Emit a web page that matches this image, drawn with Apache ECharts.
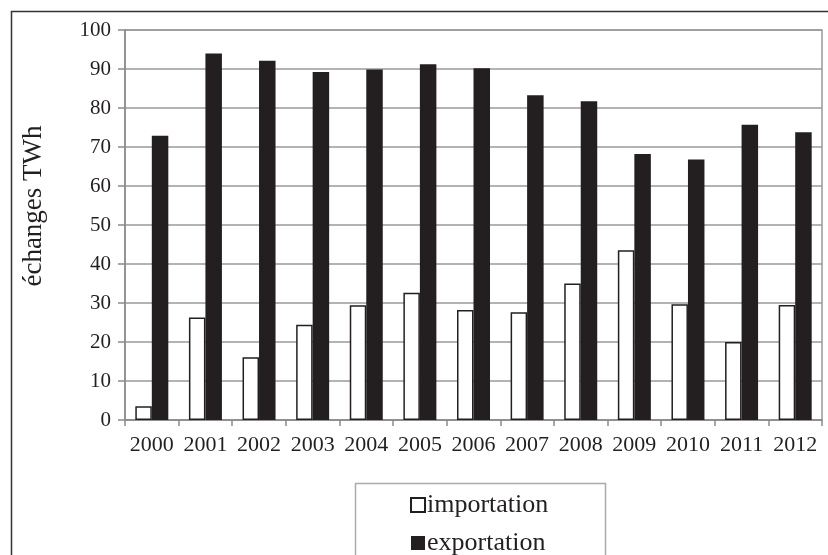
<!DOCTYPE html>
<html>
<head>
<meta charset="utf-8">
<script src="https://cdn.jsdelivr.net/npm/echarts@6/dist/echarts.min.js"></script>
<style>
html,body{margin:0;padding:0;background:#fff;}
#c{width:828px;height:555px;}
</style>
</head>
<body>
<div id="c"></div>
<script>
var categories = ['2000','2001','2002','2003','2004','2005','2006','2007','2008','2009','2010','2011','2012'];
var importation = [3.5, 26.3, 16.1, 24.4, 29.4, 32.6, 28.2, 27.6, 35.0, 43.5, 29.7, 20.0, 29.5];
var exportation = [72.9, 94.0, 92.1, 89.2, 89.9, 91.2, 90.2, 83.3, 81.7, 68.2, 66.8, 75.7, 73.8];
var yTicks = [0, 100, 10];
var yTitle = 'échanges TWh';

var font = 'Liberation Serif, Times New Roman, serif';
var dark = '#231f20';
var chart = echarts.init(document.getElementById('c'));
chart.setOption({
  backgroundColor: '#ffffff',
  animation: false,
  grid: {left: 125, right: 6, top: 30, bottom: 135, containLabel: false, outerBoundsMode: 'none',
         show: true, borderColor: '#9a9a9a', borderWidth: 1.5, backgroundColor: 'transparent'},
  xAxis: {
    type: 'category', data: categories,
    axisLine: {lineStyle: {color: '#8a8a8a', width: 1.5}},
    axisTick: {show: true, length: 6, lineStyle: {color: '#8a8a8a', width: 1.5}},
    axisLabel: {interval: 0, color: dark, fontFamily: font, fontSize: 22, margin: 14}
  },
  yAxis: {
    type: 'value', min: yTicks[0], max: yTicks[1], interval: yTicks[2],
    axisLine: {show: true, lineStyle: {color: '#8a8a8a', width: 1.5}},
    axisTick: {show: true, length: 7, lineStyle: {color: '#8a8a8a', width: 1.5}},
    axisLabel: {color: dark, fontFamily: font, fontSize: 21, margin: 14},
    splitLine: {lineStyle: {color: '#9a9a9a', width: 1.5}}
  },
  legend: {
    orient: 'vertical', left: 405, top: 487, height: 100, itemWidth: 14, itemHeight: 14, itemGap: 12,
    icon: 'rect',
    textStyle: {color: dark, fontFamily: font, fontSize: 26, padding: [0, 0, 0, -3]},
    data: ['importation', 'exportation']
  },
  graphic: [
    {type: 'rect', left: 9, top: 9, shape: {x: 0, y: 0, width: 840, height: 570}, style: {fill: 'none', stroke: '#333', lineWidth: 1.5}, silent: true},
    {type: 'rect', left: 353, top: 481, shape: {x: 0, y: 0, width: 250, height: 100}, style: {fill: 'none', stroke: '#aaa', lineWidth: 1.5}, silent: true},
    {type: 'text', x: 34, y: 206, rotation: Math.PI / 2,
     style: {text: yTitle, fill: dark, font: '27px ' + font, textAlign: 'center', textVerticalAlign: 'middle'}, silent: true}
  ],
  series: [
    {name: 'importation', type: 'bar', data: importation, barWidth: 16.5, barGap: '0%',
     itemStyle: {color: '#ffffff', borderColor: dark, borderWidth: 1.5}},
    {name: 'exportation', type: 'bar', data: exportation, barWidth: 16.5, barGap: '0%',
     itemStyle: {color: dark}}
  ]
});
</script>
</body>
</html>
